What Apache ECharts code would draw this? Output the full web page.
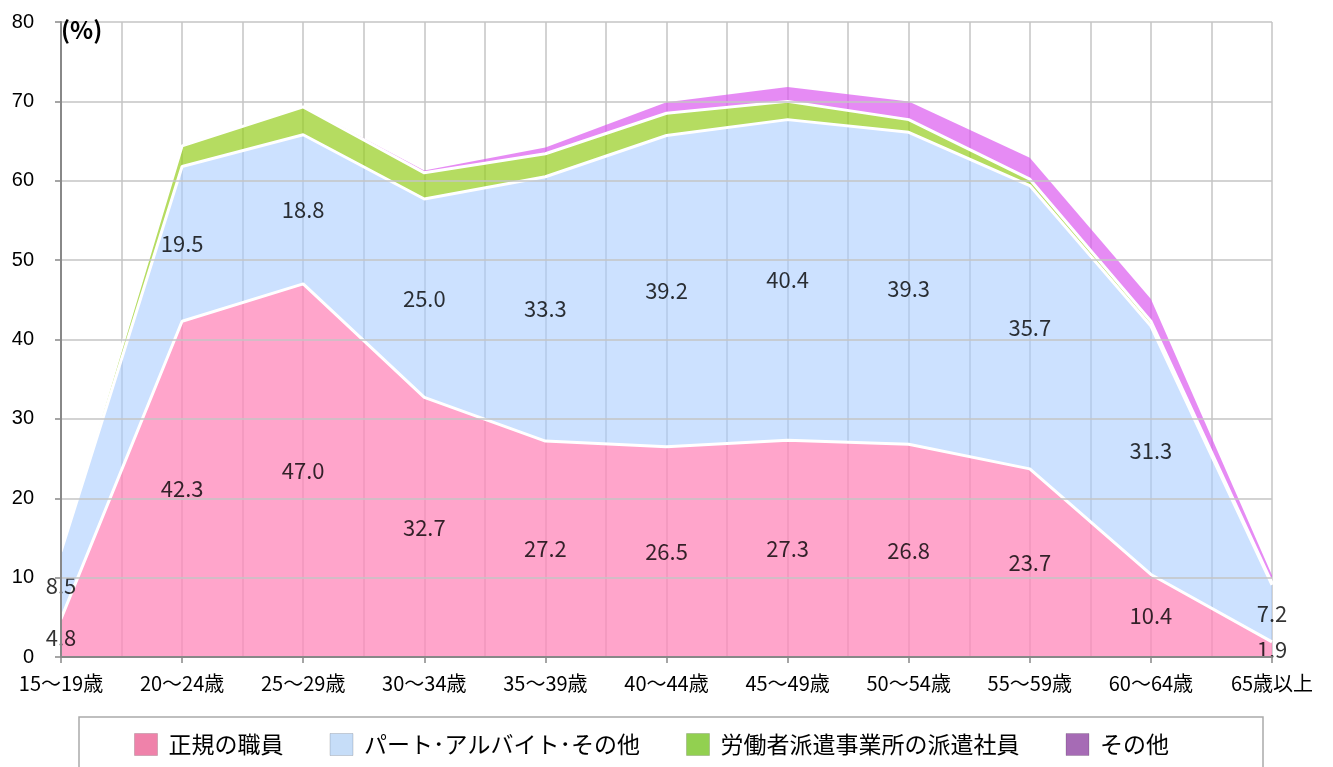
<!DOCTYPE html>
<html>
<head>
<meta charset="utf-8">
<script src="https://cdn.jsdelivr.net/npm/echarts@6/dist/echarts.min.js"></script>
<style>
html,body{margin:0;padding:0;background:#fff;}
#chart{width:1333px;height:767px;}
</style>
</head>
<body>
<div id="chart"></div>
<script>
const categories = ['15～19歳','20～24歳','25～29歳','30～34歳','35～39歳','40～44歳','45～49歳','50～54歳','55～59歳','60～64歳','65歳以上'];
const seriesNames = ['正規の職員','パート･アルバイト･その他','労働者派遣事業所の派遣社員','その他'];
const regular  = [4.8, 42.3, 47.0, 32.7, 27.2, 26.5, 27.3, 26.8, 23.7, 10.4, 1.9];
const partTime = [8.5, 19.5, 18.8, 25.0, 33.3, 39.2, 40.4, 39.3, 35.7, 31.3, 7.2];
const dispatch = [0.3, 2.6, 3.5, 3.3, 2.9, 2.8, 2.3, 1.6, 0.8, 0.6, 0.2];
const other    = [0.1, 0.1, 0.1, 0.3, 0.8, 1.4, 1.8, 2.3, 2.7, 2.8, 1.0];
const yTicks = [0,10,20,30,40,50,60,70,80];

const areaColors = ['rgba(255,135,185,0.75)','rgba(170,205,255,0.6)','rgba(150,205,30,0.7)','rgba(220,90,240,0.7)'];
const legendColors = ['#EF82AA','#C6DDF8','#92D050','#A66BB5'];
const allData = [regular, partTime, dispatch, other];

const lineSeries = allData.map((d, i) => ({
  name: seriesNames[i],
  type: 'line',
  stack: 'total',
  data: d,
  symbol: 'none',
  z: 10 - i,
  itemStyle: {color: legendColors[i]},
  lineStyle: i < 3 ? {color: '#ffffff', width: 3} : {width: 0, color: areaColors[3]},
  areaStyle: {color: areaColors[i], opacity: 1},
  emphasis: {disabled: true}
}));

function midPoints(vals, base) {
  return vals.map((v, i) => [i, (base ? base[i] : 0) + v / 2]);
}
const labelStyle = {show: true, position: 'inside', color: '#000', fontSize: 22, fontFamily: 'Noto Sans CJK JP'};
const labelSeries = [
  {name: 'lblRegular', type: 'scatter', symbolSize: 0, z: 20, data: midPoints(regular),
   label: Object.assign({}, labelStyle, {formatter: p => regular[p.dataIndex].toFixed(1)})},
  {name: 'lblPart', type: 'scatter', symbolSize: 0, z: 20, data: midPoints(partTime, regular),
   label: Object.assign({}, labelStyle, {formatter: p => partTime[p.dataIndex].toFixed(1)})}
];

const chart = echarts.init(document.getElementById('chart'));
chart.setOption({
  animation: false,
  backgroundColor: '#fff',
  grid: {left: 61, right: 61, top: 22, bottom: 110, containLabel: false},
  xAxis: [{
    type: 'category',
    data: categories,
    boundaryGap: false,
    axisLine: {show: true, lineStyle: {color: '#888', width: 2}},
    axisTick: {show: true, length: 6, alignWithLabel: true, lineStyle: {color: '#888', width: 1.5}},
    axisLabel: {color: '#000', fontSize: 20, margin: 16, fontFamily: 'Noto Sans CJK JP', interval: 0},
    splitLine: {show: false},
    z: 30
  }, {
    type: 'value',
    min: 0, max: (categories.length - 1) * 2, interval: 1,
    position: 'top',
    axisLine: {show: false}, axisTick: {show: false}, axisLabel: {show: false},
    splitLine: {show: true, lineStyle: {color: '#c4c4c4', width: 1.5}}
  }],
  yAxis: {
    type: 'value',
    min: yTicks[0], max: yTicks[yTicks.length - 1], interval: 10,
    name: '(%)',
    nameLocation: 'end',
    nameGap: -8,
    nameTextStyle: {align: 'left', verticalAlign: 'middle', color: '#000', fontSize: 24, fontWeight: 'bold', fontFamily: 'Noto Sans CJK JP', padding: [0, 0, 0, 0]},
    axisLine: {show: true, lineStyle: {color: '#888', width: 2}},
    axisTick: {show: true, length: 6, lineStyle: {color: '#888', width: 1.5}},
    axisLabel: {color: '#000', fontSize: 20, margin: 27, fontFamily: 'Liberation Sans'},
    splitLine: {show: true, lineStyle: {color: '#c4c4c4', width: 1.5}},
    z: 30
  },
  legend: {
    left: 79, top: 717,
    data: seriesNames.map((n, i) => ({name: n, icon: 'rect', itemStyle: {color: legendColors[i], borderColor: 'rgba(0,0,0,0.15)', borderWidth: 1}})),
    itemWidth: 23, itemHeight: 22, itemGap: 46,
    padding: [16, 94, 40, 55],
    borderColor: '#aaa', borderWidth: 1.5,
    textStyle: {color: '#000', fontSize: 23, fontFamily: 'Noto Sans CJK JP', padding: [0, 0, 0, 6]},
    selectedMode: false
  },
  series: lineSeries.concat(labelSeries)
});
</script>
</body>
</html>
